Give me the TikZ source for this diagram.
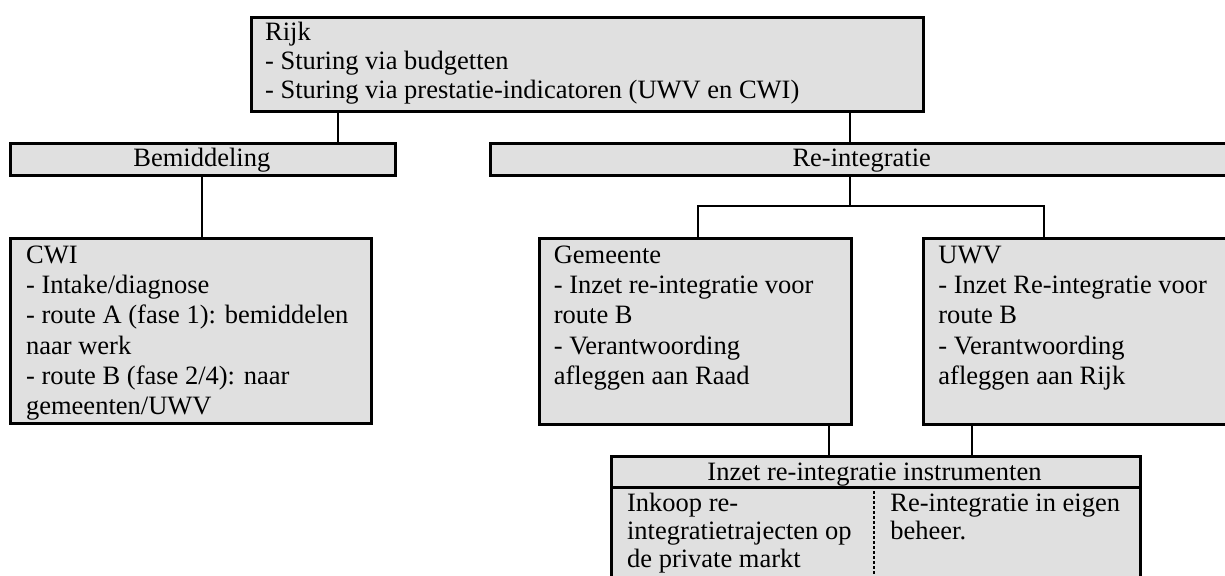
\documentclass[tikz,border=0pt]{standalone}
\usepackage{fontspec}
\setmainfont{Liberation Serif}
\definecolor{boxgray}{RGB}{224,224,224}
\newcommand{\boxlines}[1]{\begin{tabular}[t]{@{}l@{}}#1\end{tabular}}
\tikzset{box/.style={draw,fill=boxgray,line width=1.4pt,anchor=north west,inner sep=0pt},
  txt/.style={anchor=base west,inner sep=0pt,font=\fontsize{13.25pt}{15.15pt}\selectfont},
  mid/.style={anchor=base,inner sep=0pt,font=\fontsize{13.25pt}{15.15pt}\selectfont}}

\begin{document}
\begin{tikzpicture}[x=0.5pt,y=-0.5pt,line width=1.1pt]
  \useasboundingbox (0,0) rectangle (1225,575);
  \clip (0,0) rectangle (1225,575);
  % boxes
  \node[box,minimum width=336.15pt,minimum height=47.15pt] (rijk)  at (250,15.7)   {};
  \node[box,minimum width=192.5pt ,minimum height=16.15pt] (bem)   at (9.3,141.7)  {};
  \node[box,minimum width=372.35pt,minimum height=16.15pt] (reint) at (489.3,141.7) {};
  \node[box,minimum width=180.35pt,minimum height=92.5pt ] (cwi)   at (9.3,237.3)  {};
  \node[box,minimum width=156.15pt,minimum height=92.7pt ] (gem)   at (537.7,237.3) {};
  \node[box,minimum width=156.15pt,minimum height=92.7pt ] (uwv)   at (921.7,237.3) {};
  \node[box,minimum width=264.5pt ,minimum height=15.5pt ] (inzet) at (610,455)    {};
  \node[box,minimum width=264.5pt ,minimum height=60pt   ] (instr) at (610,486)    {};
  % connector positions
  \coordinate (rb) at (338.3,0);
  \coordinate (rr) at (850,0);
  \coordinate (bc) at (201.7,0);
  \coordinate (fork) at (850,206);
  \coordinate (gx) at (698,0);
  \coordinate (ux) at (1043.7,0);
  \coordinate (gi) at (829,0);
  \coordinate (ui) at (971.7,0);
  \coordinate (dv) at (874,0);
  \draw (rijk.south -| rb) -- (bem.north -| rb);
  \draw (rijk.south -| rr) -- (reint.north -| rr);
  \draw (bem.south -| bc) -- (cwi.north -| bc);
  \draw (reint.south -| fork) -- (fork);
  \draw (gem.north -| gx) |- (fork) -| (uwv.north -| ux);
  \draw (gem.south -| gi) -- (inzet.north -| gi);
  \draw (uwv.south -| ui) -- (inzet.north -| ui);
  \draw[line width=1pt,dash pattern=on 1.5pt off 1pt] (instr.north -| dv) -- (instr.south -| dv);
  % texts
  \node[txt,font=\fontsize{13.25pt}{14.4pt}\selectfont] (rijktxt) at (264,40.7)
    {\boxlines{Rijk\\- Sturing via budgetten\\- Sturing via prestatie-indicatoren (UWV en CWI)}};
  \node[mid] (bemtxt)   at (201.8,166.7) {Bemiddeling};
  \node[mid] (reinttxt) at (861.7,166.7) {Re-integratie};
  \node[txt] (cwitxt) at (25,263.3)
    {\boxlines{CWI\\- Intake/diagnose\\- route A (fase 1): bemiddelen\\naar werk\\- route B (fase 2/4): naar\\gemeenten/UWV}};
  \node[txt] (gemtxt) at (552.7,263.3)
    {\boxlines{Gemeente\\- Inzet re-integratie voor\\route B\\- Verantwoording\\afleggen aan Raad}};
  \node[txt] (uwvtxt) at (937.3,263.3)
    {\boxlines{UWV\\- Inzet Re-integratie voor\\route B\\- Verantwoording\\afleggen aan Rijk}};
  \node[mid] (inzettxt) at (874.5,480) {Inzet re-integratie instrumenten};
  \node[txt,font=\fontsize{13.25pt}{14pt}\selectfont] (inkooptxt) at (626,511)
    {\boxlines{Inkoop re-\\integratietrajecten op\\de private markt}};
  \node[txt,font=\fontsize{13.25pt}{14pt}\selectfont] (eigentxt) at (889.3,511)
    {\boxlines{Re-integratie in eigen\\beheer.}};
\end{tikzpicture}
\end{document}
